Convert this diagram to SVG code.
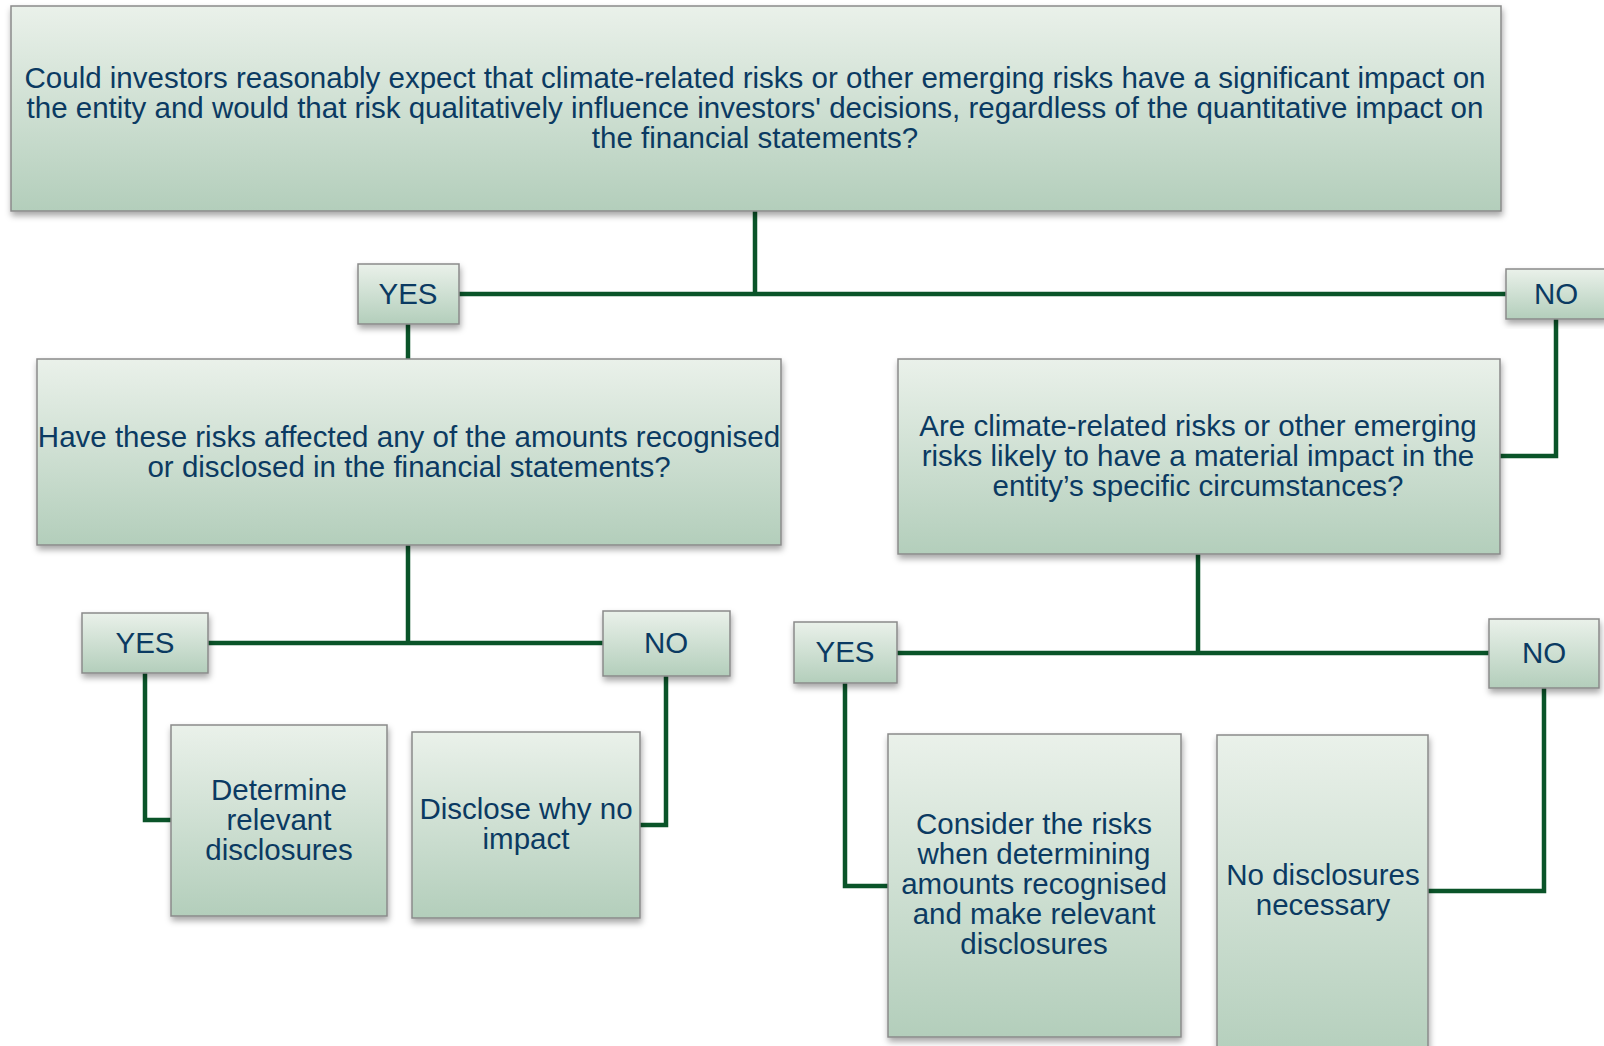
<svg xmlns="http://www.w3.org/2000/svg" width="1604" height="1046" viewBox="0 0 1604 1046">
<defs>
<linearGradient id="g" x1="0" y1="0" x2="0" y2="1">
<stop offset="0" stop-color="#eaf1ea"/>
<stop offset="1" stop-color="#b3cebb"/>
</linearGradient>
<filter id="sh" x="-10%" y="-10%" width="120%" height="130%">
<feDropShadow dx="1" dy="4" stdDeviation="3" flood-color="#000" flood-opacity="0.35"/>
</filter>
</defs>
<style>
.box{fill:url(#g);stroke:#8a8a8a;stroke-width:1.5;filter:url(#sh)}
.t{font-family:"Liberation Sans",Arial,sans-serif;font-size:29.5px;fill:#0b3a62;text-anchor:middle}
.c{fill:none;stroke:#0a5429;stroke-width:4.5;stroke-linejoin:miter}
</style>
<rect width="1604" height="1046" fill="#fff"/>
<g id="connectors">
<path class="c" d="M755,211 V294 M459,294 H1506"/>
<path class="c" d="M408,324 V359"/>
<path class="c" d="M1556,318 V456 H1500"/>
<path class="c" d="M408,545 V643 M208,643 H603"/>
<path class="c" d="M145,673 V820 H171"/>
<path class="c" d="M666,676 V825 H640"/>
<path class="c" d="M1198,554 V653 M897,653 H1489"/>
<path class="c" d="M845,683 V886 H888"/>
<path class="c" d="M1544,688 V891 H1428"/>
</g>
<g id="q1">
<rect class="box" x="11" y="6" width="1490" height="205"/>
<text class="t"><tspan x="755" y="88">Could investors reasonably expect that climate-related risks or other emerging risks have a significant impact on</tspan><tspan x="755" y="118">the entity and would that risk qualitatively influence investors' decisions, regardless of the quantitative impact on</tspan><tspan x="755" y="148">the financial statements?</tspan></text>
</g>
<g id="yes1">
<rect class="box" x="358" y="264" width="101" height="60"/>
<text class="t" x="408" y="304">YES</text>
</g>
<g id="no1">
<rect class="box" x="1506" y="269" width="102" height="50"/>
<text class="t" x="1556" y="304">NO</text>
</g>
<g id="q2">
<rect class="box" x="37" y="359" width="744" height="186"/>
<text class="t"><tspan x="409" y="447">Have these risks affected any of the amounts recognised</tspan><tspan x="409" y="477">or disclosed in the financial statements?</tspan></text>
</g>
<g id="q3">
<rect class="box" x="898" y="359" width="602" height="195"/>
<text class="t"><tspan x="1198" y="436">Are climate-related risks or other emerging</tspan><tspan x="1198" y="466">risks likely to have a material impact in the</tspan><tspan x="1198" y="496">entity’s specific circumstances?</tspan></text>
</g>
<g id="yes2">
<rect class="box" x="82" y="613" width="126" height="60"/>
<text class="t" x="145" y="653">YES</text>
</g>
<g id="no2">
<rect class="box" x="603" y="611" width="127" height="65"/>
<text class="t" x="666" y="653">NO</text>
</g>
<g id="yes3">
<rect class="box" x="794" y="622" width="103" height="61"/>
<text class="t" x="845" y="662">YES</text>
</g>
<g id="no3">
<rect class="box" x="1489" y="619" width="110" height="69"/>
<text class="t" x="1544" y="663">NO</text>
</g>
<g id="determine">
<rect class="box" x="171" y="725" width="216" height="191"/>
<text class="t"><tspan x="279" y="800">Determine</tspan><tspan x="279" y="830">relevant</tspan><tspan x="279" y="860">disclosures</tspan></text>
</g>
<g id="disclose">
<rect class="box" x="412" y="732" width="228" height="186"/>
<text class="t"><tspan x="526" y="819">Disclose why no</tspan><tspan x="526" y="849">impact</tspan></text>
</g>
<g id="consider">
<rect class="box" x="888" y="734" width="293" height="303"/>
<text class="t"><tspan x="1034" y="834">Consider the risks</tspan><tspan x="1034" y="864">when determining</tspan><tspan x="1034" y="894">amounts recognised</tspan><tspan x="1034" y="924">and make relevant</tspan><tspan x="1034" y="954">disclosures</tspan></text>
</g>
<g id="nodisc">
<rect class="box" x="1217" y="735" width="211" height="330"/>
<text class="t"><tspan x="1323" y="885">No disclosures</tspan><tspan x="1323" y="915">necessary</tspan></text>
</g>
</svg>
